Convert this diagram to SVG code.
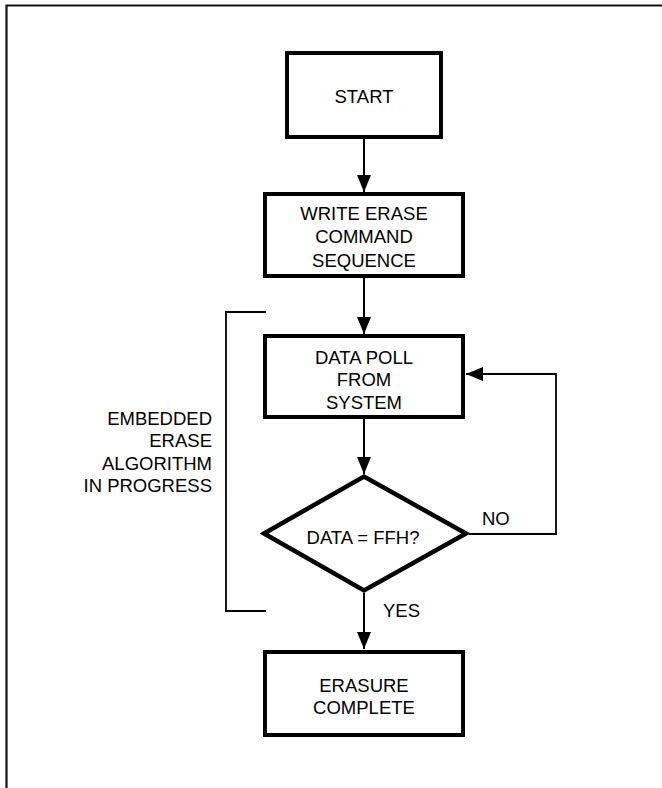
<svg xmlns="http://www.w3.org/2000/svg" width="662" height="788" viewBox="0 0 662 788">
  <defs>
    <style>
      .box { fill: #fff; stroke: #000; stroke-width: 4; }
      .dia { fill: #fff; stroke: #000; stroke-width: 4.5; stroke-linejoin: miter; stroke-miterlimit: 10; }
      .t { font-family: "Liberation Sans", Arial, Helvetica, sans-serif; font-size: 18.5px; fill: #000; }
      .c { text-anchor: middle; }
      .e { text-anchor: end; }
      .flow { fill: none; stroke: #000; stroke-width: 2; }
      .thin { fill: none; stroke: #000; stroke-width: 1.8; }
      .frame { fill: none; stroke: #111; stroke-width: 2.2; }
    </style>
    <marker id="arr" markerUnits="userSpaceOnUse" markerWidth="18" markerHeight="14" refX="17" refY="7" orient="auto">
      <path d="M0,0 L17,7 L0,14 Z" fill="#000"/>
    </marker>
  </defs>

  <path class="frame" d="M6.5,800 V5.5 H670"/>

  <g id="connectors">
    <line class="flow" x1="364" y1="139" x2="364" y2="192" marker-end="url(#arr)"/>
    <line class="flow" x1="364" y1="278" x2="364" y2="334" marker-end="url(#arr)"/>
    <line class="flow" x1="364" y1="419" x2="364" y2="474" marker-end="url(#arr)"/>
    <line class="flow" x1="364" y1="593" x2="364" y2="649" marker-end="url(#arr)"/>
    <polyline class="thin" points="469,534 556,534 556,374 466,374" marker-end="url(#arr)"/>
    <text class="t" x="482" y="525">NO</text>
    <text class="t" x="383" y="617">YES</text>
  </g>

  <g id="bracket">
    <polyline class="thin" points="266,312 226,312 226,611 266,611"/>
    <text class="t e" x="212" y="425">EMBEDDED</text>
    <text class="t e" x="212" y="447">ERASE</text>
    <text class="t e" x="212" y="470">ALGORITHM</text>
    <text class="t e" x="212" y="492">IN PROGRESS</text>
  </g>

  <g id="start">
    <rect class="box" x="287" y="53" width="154" height="84"/>
    <text class="t c" x="364" y="103">START</text>
  </g>

  <g id="write-erase">
    <rect class="box" x="265" y="194" width="198" height="82"/>
    <text class="t c" x="364" y="219.6">WRITE ERASE</text>
    <text class="t c" x="364" y="243.3">COMMAND</text>
    <text class="t c" x="364" y="266.6">SEQUENCE</text>
  </g>

  <g id="data-poll">
    <rect class="box" x="265" y="336" width="198" height="81"/>
    <text class="t c" x="364" y="363.6">DATA POLL</text>
    <text class="t c" x="364" y="385.6">FROM</text>
    <text class="t c" x="364" y="408.6">SYSTEM</text>
  </g>

  <g id="decision">
    <polygon class="dia" points="264,533.5 364,476.5 466,533.5 364,590.5"/>
    <text class="t c" x="363" y="544">DATA = FFH?</text>
  </g>

  <g id="erasure-complete">
    <rect class="box" x="265" y="652" width="198" height="83"/>
    <text class="t c" x="364" y="691.6">ERASURE</text>
    <text class="t c" x="364" y="713.6">COMPLETE</text>
  </g>
</svg>
